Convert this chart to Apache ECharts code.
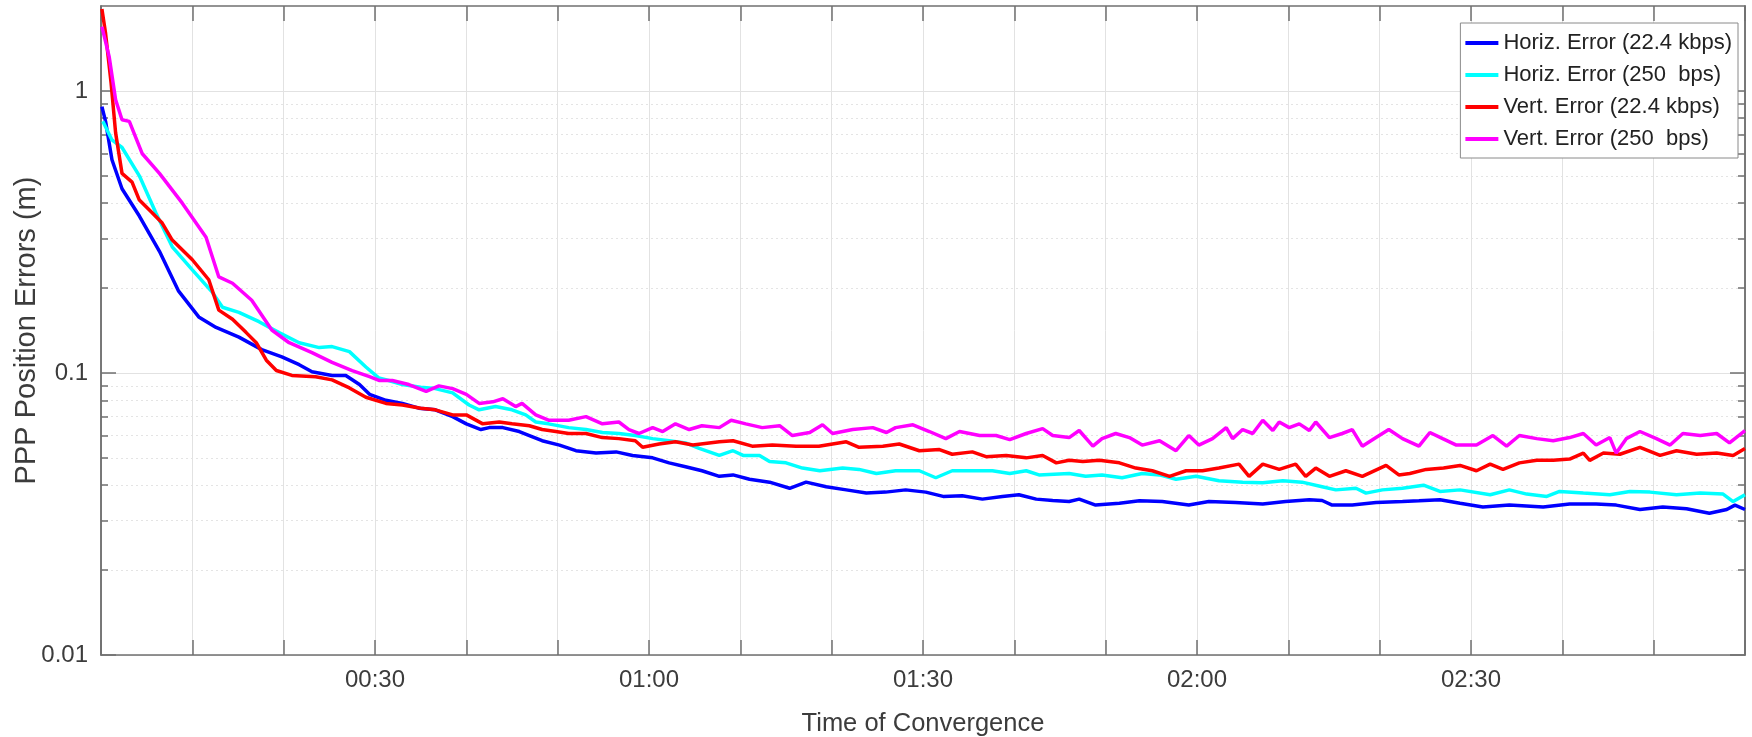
<!DOCTYPE html>
<html>
<head>
<meta charset="utf-8">
<title>PPP Position Errors</title>
<script src="https://cdn.jsdelivr.net/npm/echarts@6.0.0/dist/echarts.min.js"></script>
<style>
html,body{margin:0;padding:0;background:#fff;}
#chart{width:1752px;height:737px;}
</style>
</head>
<body>
<div id="chart"></div>
<script>
// minutes since start / error in metres
var horiz224T = [0.1,0.5,1.2,2.3,4.2,6.4,8.5,10.7,12.6,15.1,17.6,19.8,21.7,23.1,25.3,26.8,28.3,29.4,31.2,33,34.8,36.6,38.5,40,41.6,42.5,44,45.8,46.9,48.3,50.2,52,54.2,56.4,58.2,60.4,62.2,64,65.8,67.7,69.2,71,73.2,75.4,77.2,79.4,81.6,83.8,85.9,88.1,90.3,92.2,94.3,96.5,98.7,100.5,102.4,104.2,106,107.1,108.9,111.5,113.7,116.2,119.1,121.3,124.2,127.2,129.7,132.3,133.7,134.8,137,139.6,142.5,144.3,146.6,148.8,151.3,154.2,157.9,160.8,163.7,165.9,168.5,171,173.6,176.1,178,178.9,180];
var horiz224V = [0.88,0.78,0.57,0.45,0.36,0.27,0.195,0.158,0.145,0.134,0.121,0.114,0.107,0.101,0.098,0.098,0.091,0.084,0.080,0.078,0.075,0.074,0.070,0.066,0.063,0.064,0.064,0.062,0.060,0.0575,0.0555,0.053,0.052,0.0525,0.051,0.050,0.048,0.0465,0.045,0.043,0.0435,0.042,0.041,0.039,0.041,0.0395,0.0385,0.0375,0.0378,0.0385,0.0378,0.0365,0.0367,0.0357,0.0365,0.037,0.0357,0.0353,0.035,0.0357,0.034,0.0345,0.0352,0.035,0.034,0.035,0.0347,0.0343,0.035,0.0355,0.0353,0.034,0.034,0.0347,0.035,0.0352,0.0355,0.0345,0.0335,0.034,0.0335,0.0343,0.0343,0.034,0.0328,0.0335,0.033,0.0318,0.0328,0.034,0.0328];

var horiz250T = [0.2,1.2,2.3,4.2,6,7.8,10,12.2,13.3,15.1,17.3,19.5,21.7,23.9,25.3,27.2,29,30.4,31.5,33,35,36.6,38.5,40.3,41.4,43.2,45,46.5,47.6,49,51.2,53.1,54.9,56.7,58.5,60.4,62.2,64,65.5,67.7,69.2,70.3,72.1,73.2,75,76.8,78.7,81.2,83,84.9,87,89.6,91.4,93.2,95.4,97.6,99.5,101.3,102.7,106,107.8,109.6,111.8,114,115.9,117.7,119.9,122.4,125,127.2,129.4,131.5,133.7,135.2,137.4,138.5,140.3,142.5,144.8,146.6,148.8,152.1,154.2,156.1,158.3,159.7,162.3,165.2,167.4,169.6,172.5,175.1,177.6,178.7,180];
var horiz250V = [0.78,0.67,0.63,0.50,0.37,0.28,0.232,0.193,0.171,0.164,0.152,0.139,0.128,0.123,0.124,0.119,0.105,0.096,0.094,0.091,0.089,0.088,0.085,0.077,0.074,0.076,0.074,0.071,0.067,0.066,0.064,0.063,0.0615,0.061,0.060,0.0585,0.0575,0.0565,0.054,0.051,0.053,0.051,0.051,0.0485,0.048,0.046,0.045,0.046,0.0455,0.044,0.045,0.045,0.0425,0.045,0.045,0.045,0.044,0.045,0.0435,0.044,0.043,0.0435,0.0425,0.044,0.0435,0.042,0.043,0.0415,0.041,0.0408,0.0415,0.041,0.0395,0.0385,0.039,0.0375,0.0385,0.039,0.040,0.038,0.0385,0.037,0.0385,0.0372,0.0365,0.038,0.0375,0.037,0.038,0.0378,0.037,0.0375,0.0372,0.035,0.037];

var vert224T = [0.1,0.5,1.1,1.6,2.3,3.4,4.2,5.6,6.7,7.8,10,11.8,12.9,14.4,15.9,17,18.1,19.2,20.9,23.5,25.3,27.2,29,31.2,33,35,36.6,38.5,40,41.8,43.6,45,46.9,48.3,49.8,51.2,53.1,54.9,56.7,58.5,59.3,61.1,62.9,64.8,67.7,69.2,71.3,73.5,76.1,78.6,81.6,83,85.6,87.4,89.6,91.8,93.2,95.4,96.9,99.1,101.3,103.1,104.6,106,107.5,109.3,111.5,113.3,115.1,117,118.8,120.6,122.4,124.6,125.7,127.2,129,130.8,131.9,133,134.5,136.3,138.1,140.7,142.1,143.3,145.1,147,148.8,150.6,152.1,153.5,155.3,157.2,159,160.8,162.3,163,164.5,166.3,168.5,170.7,172.5,174.7,176.9,178.7,180];
var vert224V = [1.95,1.6,1.07,0.71,0.51,0.475,0.41,0.37,0.34,0.296,0.252,0.214,0.167,0.155,0.139,0.128,0.111,0.102,0.098,0.097,0.0945,0.0885,0.082,0.078,0.077,0.075,0.074,0.071,0.071,0.066,0.067,0.066,0.065,0.063,0.062,0.061,0.061,0.059,0.0585,0.0575,0.0545,0.056,0.057,0.0555,0.057,0.0575,0.055,0.0555,0.055,0.055,0.057,0.0545,0.055,0.056,0.053,0.0535,0.0515,0.0525,0.0505,0.051,0.050,0.051,0.048,0.049,0.0485,0.049,0.048,0.046,0.045,0.043,0.045,0.045,0.046,0.0475,0.043,0.0475,0.0455,0.0475,0.043,0.046,0.043,0.045,0.043,0.047,0.0435,0.044,0.0455,0.046,0.047,0.045,0.0475,0.0455,0.048,0.049,0.049,0.0495,0.052,0.049,0.052,0.0515,0.0545,0.051,0.053,0.0515,0.052,0.051,0.054];

var vert250T = [0.1,0.9,1.6,2.3,3.1,4.5,6.4,8.9,11.5,12.9,14.4,16.5,18.7,20.6,23.1,25.3,27.5,29.4,30.5,31.9,33.7,35.6,37,38.5,40,41.4,42.9,44,45.4,46.1,47.6,49,51.2,53.1,54.9,56.7,57.8,58.9,60.4,61.5,62.9,64.4,65.8,67.7,69,70.6,72.4,74.3,75.7,77.6,79,80.1,82.3,84.5,86,87,88.9,90.7,92.5,94,96.2,98,99.5,101.3,103.1,104.2,106,107.1,108.6,109.6,111.1,112.6,114,115.9,117.7,119.1,120.2,121.7,123.2,123.9,125,126.1,127.2,128.3,129,130.1,131.2,132.3,133,134.5,135.9,137,138.1,139.6,141,142.5,144.3,145.5,146.9,148.4,150.6,152.4,153.9,155.3,157.2,159,160.8,162.3,163.7,165.2,165.9,167,168.5,170.3,171.8,173.2,175.1,176.9,178.3,180];
var vert250V = [1.69,1.32,0.93,0.79,0.78,0.60,0.51,0.40,0.303,0.219,0.208,0.181,0.142,0.128,0.118,0.109,0.102,0.097,0.094,0.094,0.091,0.086,0.090,0.088,0.084,0.078,0.079,0.081,0.076,0.078,0.071,0.068,0.068,0.070,0.066,0.067,0.063,0.061,0.064,0.062,0.066,0.063,0.065,0.064,0.068,0.066,0.064,0.065,0.060,0.0615,0.0655,0.061,0.063,0.064,0.0615,0.064,0.0655,0.062,0.0585,0.062,0.060,0.060,0.058,0.061,0.0635,0.060,0.059,0.0625,0.055,0.0585,0.061,0.059,0.0555,0.0575,0.053,0.060,0.0555,0.0585,0.064,0.0585,0.063,0.061,0.068,0.0625,0.067,0.064,0.066,0.0625,0.067,0.059,0.061,0.063,0.055,0.059,0.063,0.0585,0.055,0.0615,0.0585,0.0555,0.0555,0.060,0.055,0.060,0.0585,0.0575,0.059,0.061,0.0555,0.059,0.052,0.0585,0.062,0.0585,0.0555,0.061,0.060,0.061,0.0565,0.0625];

var seriesNames = ['Horiz. Error (22.4 kbps)', 'Horiz. Error (250  bps)', 'Vert. Error (22.4 kbps)', 'Vert. Error (250  bps)'];
var seriesColors = ['#0000ff', '#00ffff', '#ff0000', '#ff00ff'];

var majorTicks = [0.01, 0.1, 1];
var minorTicks = [0.02,0.03,0.04,0.05,0.06,0.07,0.08,0.09,0.2,0.3,0.4,0.5,0.6,0.7,0.8,0.9];
var timeLabels = [30, 60, 90, 120, 150];

var FONT = "'Liberation Sans',Arial,sans-serif";
var AXIS_COLOR = '#707070';
var TEXT_COLOR = '#3c3c3c';

function pairs(t, v) {
	var out = [];
	for (var i = 0; i < t.length; i++) out.push([t[i], v[i]]);
	return out;
}
function pad(n) { return (n < 10 ? '0' : '') + n; }

function logAxis(pos, ticks, len, withLabels, split) {
	return {
		type: 'log',
		logBase: 10,
		min: 0.01,
		max: 2,
		position: pos,
		axisLine: { show: true, lineStyle: { color: AXIS_COLOR, width: 1.5 } },
		axisTick: { show: true, inside: true, length: len, customValues: ticks, lineStyle: { color: AXIS_COLOR, width: 1.5 } },
		axisLabel: withLabels ? {
			customValues: ticks,
			margin: 13,
			fontSize: 24,
			fontFamily: FONT,
			color: TEXT_COLOR,
			formatter: function (v) { return String(Number(v.toPrecision(2))); }
		} : { show: false },
		splitLine: split ? { show: true, lineStyle: split } : { show: false }
	};
}

var chart = echarts.init(document.getElementById('chart'));

var yMainLeft = logAxis('left', majorTicks, 15, true, { color: '#e2e2e2', width: 1 });
yMainLeft.name = 'PPP Position Errors (m)';
yMainLeft.nameLocation = 'middle';
yMainLeft.nameGap = 60;
yMainLeft.nameMoveOverlap = false;
yMainLeft.nameTextStyle = { fontSize: 29, fontFamily: FONT, color: TEXT_COLOR };

var option = {
	animation: false,
	backgroundColor: '#ffffff',
	grid: { left: 101, right: 7, top: 6, bottom: 82, containLabel: false, outerBoundsMode: 'none' },
	legend: {
		orient: 'vertical',
		right: 14,
		top: 23,
		padding: [8, 6, 7, 5],
		backgroundColor: '#ffffff',
		borderColor: '#8a8a8a',
		borderWidth: 1,
		icon: 'rect',
		itemWidth: 33,
		itemHeight: 4,
		itemGap: 8,
		textStyle: { fontSize: 22, lineHeight: 24, fontFamily: FONT, color: '#222' },
		data: seriesNames
	},
	xAxis: [
		{
			type: 'value',
			min: 0,
			max: 180,
			interval: 10,
			position: 'bottom',
			axisLine: { show: true, lineStyle: { color: AXIS_COLOR, width: 1.5 } },
			axisTick: { show: true, inside: true, length: 15, lineStyle: { color: AXIS_COLOR, width: 1.5 } },
			axisLabel: {
				customValues: timeLabels,
				margin: 13,
				fontSize: 24,
				fontFamily: FONT,
				color: TEXT_COLOR,
				formatter: function (v) { return pad(Math.floor(v / 60)) + ':' + pad(v % 60); }
			},
			splitLine: { show: true, lineStyle: { color: '#e2e2e2', width: 1 } },
			name: 'Time of Convergence',
			nameLocation: 'middle',
			nameGap: 56,
			nameTextStyle: { fontSize: 25.5, fontFamily: FONT, color: TEXT_COLOR }
		},
		{
			type: 'value',
			min: 0,
			max: 180,
			interval: 10,
			position: 'top',
			axisLine: { show: true, lineStyle: { color: AXIS_COLOR, width: 1.5 } },
			axisTick: { show: true, inside: true, length: 15, lineStyle: { color: AXIS_COLOR, width: 1.5 } },
			axisLabel: { show: false },
			splitLine: { show: false }
		}
	],
	yAxis: [
		yMainLeft,
		logAxis('left', minorTicks, 7, false, { color: '#e4e4e4', width: 1, type: [2, 3] }),
		logAxis('right', majorTicks, 15, false, null),
		logAxis('right', minorTicks, 7, false, null)
	],
	series: []
};

var allT = [horiz224T, horiz250T, vert224T, vert250T];
var allV = [horiz224V, horiz250V, vert224V, vert250V];
for (var i = 0; i < seriesNames.length; i++) {
	option.series.push({
		name: seriesNames[i],
		type: 'line',
		xAxisIndex: 0,
		yAxisIndex: 0,
		showSymbol: false,
		symbol: 'none',
		color: seriesColors[i],
		lineStyle: { color: seriesColors[i], width: 3.5 },
		data: pairs(allT[i], allV[i])
	});
}

chart.setOption(option);
</script>
</body>
</html>
